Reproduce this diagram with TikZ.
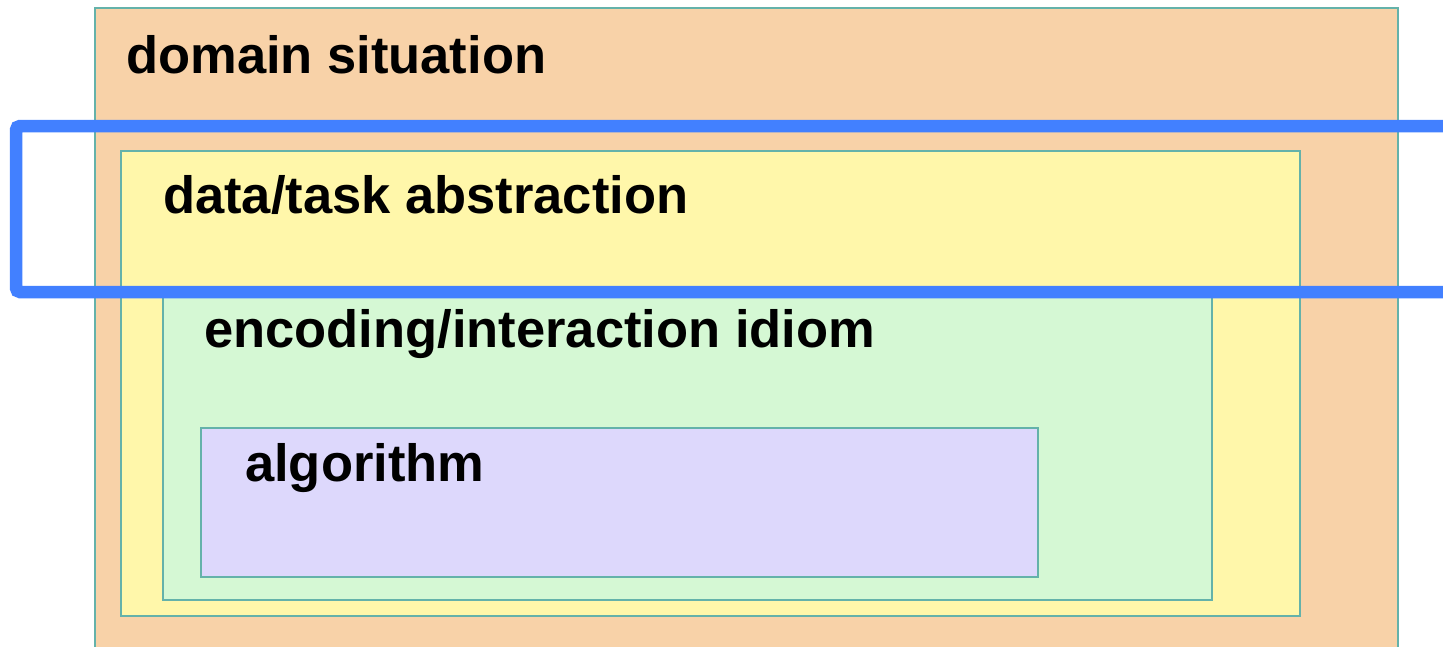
\documentclass[tikz,border=0pt]{standalone}
\usepackage{fontspec}
\setmainfont{Liberation Sans}
\definecolor{orangebg}{RGB}{248,210,168}
\definecolor{yellowbg}{RGB}{255,247,170}
\definecolor{greenbg}{RGB}{213,248,212}
\definecolor{purplebg}{RGB}{221,216,252}
\definecolor{tealline}{RGB}{100,178,170}
\definecolor{hiblue}{RGB}{66,128,255}
\begin{document}
\begin{tikzpicture}[x=1pt,y=-1pt,
  layer/.style={draw=tealline,line width=2pt},
  lbl/.style={anchor=base west,inner sep=0pt,font=\fontsize{52.5}{60}\selectfont\bfseries}]
\useasboundingbox (0,0) rectangle (1443,646);
\clip (0,0) rectangle (1443,646);
\fill[white] (0,0) rectangle (1443,646);
\draw[layer,fill=orangebg] (95,8) rectangle (1398,680);
\draw[layer,fill=yellowbg] (121,151) rectangle (1300,616);
\draw[layer,fill=greenbg] (163,292) rectangle (1212,600);
\draw[layer,fill=purplebg] (201,428) rectangle (1038,577);
\node[lbl] (domain) at (126,73) {domain situation};
\node[lbl] (data) at (163,213) {data/task abstraction};
\node[lbl] (enc) at (204,347) {encoding/interaction idiom};
\node[lbl] (alg) at (245,481) {algorithm};
\draw[hiblue,line width=12.5pt,rounded corners=4pt] (16,126) rectangle (1480,292);
\end{tikzpicture}
\end{document}
